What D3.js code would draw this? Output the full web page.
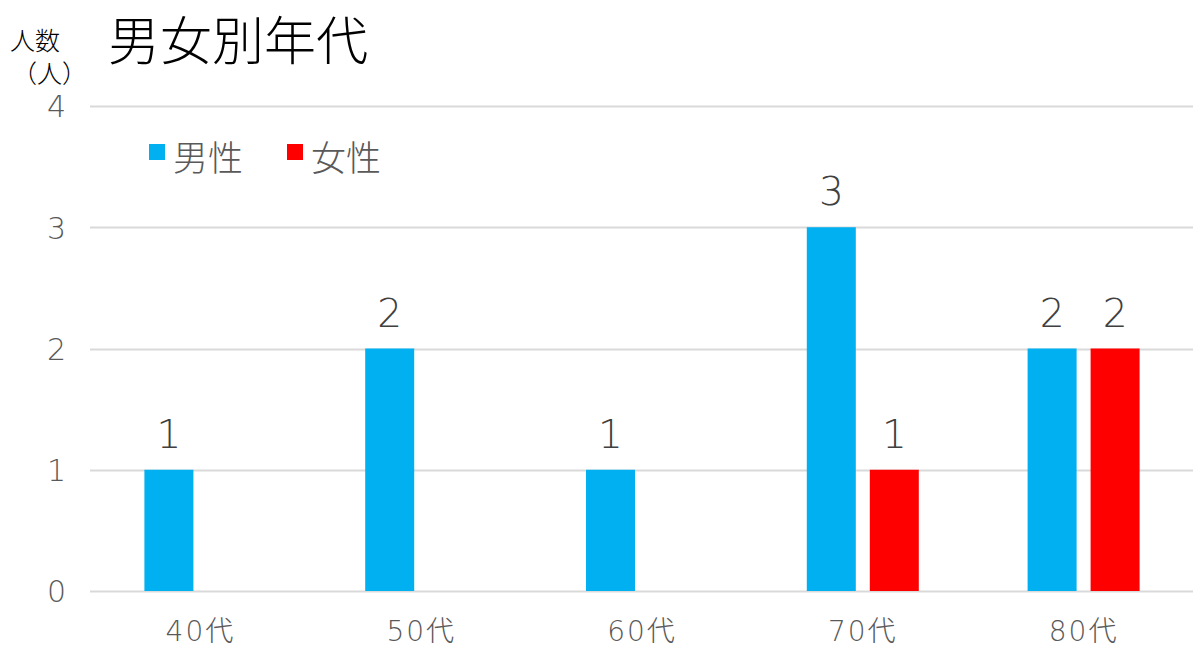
<!DOCTYPE html>
<html>
<head>
<meta charset="utf-8">
<script src="https://cdn.jsdelivr.net/npm/d3@7"></script>
<style>
  html, body { margin: 0; padding: 0; background: #fff; }
  svg { display: block; }
</style>
</head>
<body>
<div id="chart"></div>
<script>
// Age groups and head counts by gender
const categories = ["40代", "50代", "60代", "70代", "80代"];
const seriesNames = ["男性", "女性"];
const maleCounts = [1, 2, 1, 3, 2];
const femaleCounts = [0, 0, 0, 1, 2];
const yTicks = [0, 1, 2, 3, 4];
const seriesColors = ["#00B0F0", "#FF0000"];

const W = 1193, H = 648;
const margin = { left: 90, right: -1, top: 106, bottom: 57 };
const jp = "'Noto Sans CJK JP', 'Noto Sans', sans-serif";
const num = "'DejaVu Sans', 'Noto Sans CJK JP', sans-serif";

const svg = d3.select("#chart").append("svg")
  .attr("width", W).attr("height", H);

const x = d3.scaleBand()
  .domain(categories)
  .range([margin.left, W - margin.right])
  .paddingInner(0).paddingOuter(0);

const y = d3.scaleLinear()
  .domain([0, 4])
  .range([H - margin.bottom, margin.top]);

// Bars within each group: 49px wide, 14px apart
const barW = 49, barGap = 14;
const sub = d3.scaleOrdinal().domain(seriesNames)
  .range([-(barGap / 2 + barW), barGap / 2]);

// Gridlines
svg.append("g")
  .selectAll("line")
  .data(yTicks)
  .join("line")
  .attr("x1", margin.left).attr("x2", W)
  .attr("y1", d => Math.round(y(d)) + 0.5)
  .attr("y2", d => Math.round(y(d)) + 0.5)
  .attr("stroke", "#d9d9d9").attr("stroke-width", 2);

// Y axis labels
const yAxis = d3.axisLeft(y).tickValues(yTicks).tickSize(0).tickPadding(0).tickFormat(d3.format("d"));
const yg = svg.append("g").attr("transform", `translate(66,0)`).call(yAxis);
yg.select(".domain").remove();
yg.selectAll("text")
  .attr("fill", "#595959")
  .attr("font-family", num)
  .attr("font-weight", 200)
  .attr("font-size", 30)
  .attr("dy", "0.36em");

// X axis labels
const xAxis = d3.axisBottom(x).tickSize(0).tickPadding(0);
const xg = svg.append("g").attr("transform", `translate(0,${y(0)})`).call(xAxis);
xg.select(".domain").remove();
xg.selectAll("text")
  .attr("fill", "#595959")
  .attr("font-family", num)
  .attr("font-weight", 200)
  .attr("font-size", 28)
  .attr("letter-spacing", 2)
  .attr("dy", null)
  .attr("y", 50);

// Bars
const rows = categories.map((c, i) => ({ cat: c, values: [maleCounts[i], femaleCounts[i]] }));
const groups = svg.append("g").selectAll("g")
  .data(rows)
  .join("g")
  .attr("transform", d => `translate(${x(d.cat) + x.bandwidth() / 2},0)`);

const cells = groups.selectAll("g")
  .data(d => d.values.map((v, j) => ({ v, name: seriesNames[j], color: seriesColors[j] })).filter(e => e.v > 0))
  .join("g");

cells.append("rect")
  .attr("x", d => sub(d.name))
  .attr("width", barW)
  .attr("y", d => y(d.v))
  .attr("height", d => y(0) - y(d.v))
  .attr("fill", d => d.color);

cells.append("text")
  .attr("x", d => sub(d.name) + barW / 2)
  .attr("y", d => y(d.v) - 22)
  .attr("text-anchor", "middle")
  .attr("fill", "#404040")
  .attr("font-family", num)
  .attr("font-weight", 200)
  .attr("font-size", 39)
  .text(d => d.v);

// Title
svg.append("text")
  .attr("x", 108).attr("y", 60)
  .attr("fill", "#000")
  .attr("font-family", jp)
  .attr("font-weight", 300)
  .attr("font-size", 52)
  .text("男女別年代");

// Y axis title
svg.append("text")
  .attr("x", 10).attr("y", 50)
  .attr("fill", "#000")
  .attr("font-family", jp)
  .attr("font-weight", 300)
  .attr("font-size", 25)
  .text("人数");
svg.append("text")
  .attr("x", 12).attr("y", 83)
  .attr("fill", "#000")
  .attr("font-family", jp)
  .attr("font-weight", 300)
  .attr("font-size", 25)
  .text("（人）");

// Legend
const legendX = [149, 287];
const lg = svg.append("g").selectAll("g")
  .data(seriesNames)
  .join("g")
  .attr("transform", (d, i) => `translate(${legendX[i]},144)`);
lg.append("rect")
  .attr("width", 16).attr("height", 16)
  .attr("fill", (d, i) => seriesColors[i]);
lg.append("text")
  .attr("x", 24).attr("y", 27)
  .attr("fill", "#595959")
  .attr("font-family", jp)
  .attr("font-weight", 300)
  .attr("font-size", 35)
  .text(d => d);
</script>
</body>
</html>
